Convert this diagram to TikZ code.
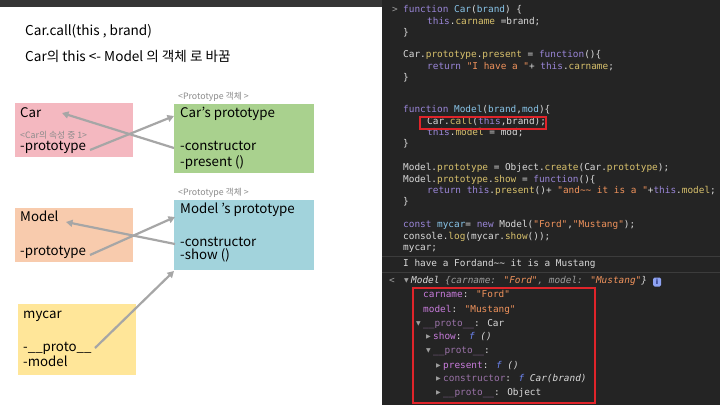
\documentclass[tikz,border=0pt]{standalone}
\usepackage{fontspec}
\setmainfont{Noto Sans CJK KR}
\newfontfamily\codefont{DejaVu Sans Mono}
\newfontfamily\symbfont{DejaVu Sans}
\usetikzlibrary{arrows.meta}
\definecolor{bgpanel}{HTML}{242424}
\definecolor{topbar}{HTML}{353535}
\definecolor{sepline}{HTML}{3C3C3C}
\definecolor{ckw}{HTML}{9A86D8}
\definecolor{cdef}{HTML}{88C4E8}
\definecolor{cprop}{HTML}{D8C16C}
\definecolor{cstr}{HTML}{F0935C}
\definecolor{cplain}{HTML}{DADADA}
\definecolor{cgray}{HTML}{9E9E9E}
\definecolor{cobj}{HTML}{C77BDB}
\definecolor{cdim}{HTML}{9A72A8}
\definecolor{cfn}{HTML}{6C84F0}
\definecolor{redbox}{HTML}{E0242A}
\definecolor{pinkbox}{HTML}{F4B8C0}
\definecolor{greenbox}{HTML}{A9D18E}
\definecolor{tealbox}{HTML}{A2D3DC}
\definecolor{peachbox}{HTML}{F8CBAD}
\definecolor{yellowbox}{HTML}{FFE699}
\definecolor{arrowgray}{HTML}{A6A6A6}
\definecolor{smallgray}{HTML}{8C8C8C}
\definecolor{infoblue}{HTML}{8EA2F2}
\definecolor{infodark}{HTML}{1E2A70}
\newcommand\tkw[1]{\textcolor{ckw}{#1}}
\newcommand\tdef[1]{\textcolor{cdef}{#1}}
\newcommand\tprop[1]{\textcolor{cprop}{#1}}
\newcommand\tstr[1]{\textcolor{cstr}{#1}}
\newcommand\tobj[1]{\textcolor{cobj}{#1}}
\newcommand\tdim[1]{\textcolor{cdim}{#1}}
\newcommand\tfn[1]{\textcolor{cfn}{\itshape #1}}
\newcommand\tcg[1]{\textcolor{cgray}{#1}}
\begin{document}
\begin{tikzpicture}[x=1pt,y=-1pt,
  box/.style={rectangle,draw=none,inner sep=0,outer sep=0,anchor=north west},
  lbl/.style={anchor=west,inner sep=0,font=\fontsize{13.3}{15}\selectfont,text height=9.5pt,text depth=3pt},
  ttl/.style={anchor=west,inner sep=0,font=\fontsize{13.6}{16}\selectfont,text height=10pt,text depth=3pt},
  sm/.style={anchor=west,inner sep=0,font=\fontsize{8.8}{10}\selectfont,text=smallgray},
  code/.style={anchor=west,inner sep=0,font=\codefont\fontsize{9.4}{11}\selectfont,text=cplain,text height=7pt,text depth=2pt},
  tri/.style={anchor=west,inner sep=0,font=\symbfont\fontsize{6}{7}\selectfont,text=cgray},
  arr/.style={draw=arrowgray,line width=2.2pt,-{Triangle[length=6.5pt,width=7pt]}},
  red/.style={draw=redbox,line width=1.6pt}
]
\useasboundingbox (0,0) rectangle (720,405);
\fill[white] (0,0) rectangle (720,405);
\fill[topbar] (0,0) rectangle (382,7);
\fill[bgpanel] (382,0) rectangle (720,405);
\draw[sepline,line width=0.8pt] (382,256) -- (720,256);
\draw[sepline,line width=0.8pt] (382,272) -- (720,272);

% ---- left: titles
\node[ttl] (t1) at (25,32) {Car.call(this , brand)};
\node[ttl] (t2) at (25,58) {Car의 this <- Model 의 객체 로 바꿈};

% ---- boxes
\node[box,fill=pinkbox,minimum width=118pt,minimum height=54pt] (carbox) at (15,103) {};
\node[box,fill=greenbox,minimum width=140pt,minimum height=69pt] (cpbox) at (174,104) {};
\node[box,fill=peachbox,minimum width=118pt,minimum height=54pt] (modbox) at (15,208) {};
\node[box,fill=tealbox,minimum width=140pt,minimum height=70pt] (mpbox) at (174,200) {};
\node[box,fill=yellowbox,minimum width=118pt,minimum height=71pt] (mybox) at (18,304) {};

% ---- box texts
\node[lbl] (carname) at (20,114) {Car};
\node[sm] (carsub) at (20,135) {<Car의 속성 중 1>};
\node[lbl] (carprot) at (20,147) {-prototype};
\node[sm] (cplab) at (178,97) {<Prototype 객체 >};
\node[lbl] (cptitle) at (180,114) {Car’s prototype};
\node[lbl] (cpcons) at (180,147) {-constructor};
\node[lbl] (cppres) at (180,163) {-present ()};
\node[sm] (mplab) at (178,193) {<Prototype 객체 >};
\node[lbl] (mptitle) at (180,210) {Model ’s prototype};
\node[lbl] (mpcons) at (180,243) {-constructor};
\node[lbl] (mpshow) at (180,256) {-show ()};
\node[lbl] (modname) at (20,218) {Model};
\node[lbl] (modprot) at (20,252) {-prototype};
\node[lbl] (myname) at (23,315) {mycar};
\node[lbl] (myproto) at (23,348) {-\_\_proto\_\_};
\node[lbl] (mymodel) at (23,363) {-model};

% ---- arrows
\coordinate (a1s) at (90,150);  \coordinate (a1e) at (174,116);
\coordinate (a2s) at (174,148); \coordinate (a2e) at (62,113);
\coordinate (a3s) at (90,255);  \coordinate (a3e) at (175,217);
\coordinate (a4s) at (175,244); \coordinate (a4e) at (66,222);
\coordinate (a5s) at (95,348);  \coordinate (a5e) at (174,271);
\draw[arr] (a1s) -- (a1e);
\draw[arr] (a2s) -- (a2e);
\draw[arr] (a3s) -- (a3e);
\draw[arr] (a4s) -- (a4e);
\draw[arr] (a5s) -- (a5e);

% ---- right: code
\node[code,text=cgray] (p1) at (392,10) {>};
\node[code] (c1) at (403,10) {\tkw{function} \tdef{Car}(\tdef{brand}) \{};
\node[code] (c2) at (427,22) {\tkw{this}.\tprop{carname} =brand;};
\node[code] (c3) at (403,33) {\}};
\node[code] (c4) at (403,55) {Car.\tprop{prototype}.\tprop{present} = \tkw{function}()\{};
\node[code] (c5) at (427,67) {\tkw{return} \tstr{"I have a "}+ \tkw{this}.\tprop{carname};};
\node[code] (c6) at (403,78) {\}};
\node[code] (c7) at (403,110) {\tkw{function} \tdef{Model}(\tdef{brand},\tdef{mod})\{};
\node[code] (c8) at (427,122) {Car.\tprop{call}(\tkw{this},brand);};
\node[code] (c9) at (427,133) {\tkw{this}.\tprop{model} = mod;};
\node[code] (c10) at (403,144) {\}};
\node[code] (c11) at (403,168) {Model.\tprop{prototype} = Object.\tprop{create}(Car.\tprop{prototype});};
\node[code] (c12) at (403,180) {Model.\tprop{prototype}.\tprop{show} = \tkw{function}()\{};
\node[code] (c13) at (427,191) {\tkw{return} \tkw{this}.\tprop{present}()+ \tstr{"and\textasciitilde\textasciitilde{} it is a "}+\tkw{this}.\tprop{model};};
\node[code] (c14) at (403,202) {\}};
\node[code] (c15) at (403,225) {\tkw{const} \tdef{mycar}= \tkw{new} Model(\tstr{"Ford"},\tstr{"Mustang"});};
\node[code] (c16) at (403,237) {console.\tprop{log}(mycar.\tprop{show}());};
\node[code] (c17) at (403,248) {mycar;};
\node[code] (c18) at (403,264) {I have a Fordand\textasciitilde\textasciitilde{} it is a Mustang};
\node[code,text=cgray] (p2) at (389,281) {<};
\node[tri] (r19) at (404,281) {▼};
\node[code] (c19) at (411,281) {\itshape Model \tcg{\{carname:} \tstr{"Ford"}\tcg{, model:} \tstr{"Mustang"}\}};
\node[fill=infoblue,rounded corners=1.5pt,minimum width=8pt,minimum height=9pt,inner sep=0,
      font=\symbfont\bfseries\fontsize{7}{8}\selectfont,text=infodark] (info) at (657,282) {i};
\node[code] (c20) at (423,295) {\tobj{carname}: \tstr{"Ford"}};
\node[code] (c21) at (423,310) {\tobj{model}: \tstr{"Mustang"}};
\node[tri] (r22) at (416,324) {▼};
\node[code] (c22) at (423,324) {\tdim{\_\_proto\_\_}: Car};
\node[tri] (r23) at (426,337) {▶};
\node[code] (c23) at (433,337) {\tobj{show}: \tfn{f} \textit{()}};
\node[tri] (r24) at (426,351) {▼};
\node[code] (c24) at (433,351) {\tdim{\_\_proto\_\_}:};
\node[tri] (r25) at (436,366) {▶};
\node[code] (c25) at (443,366) {\tobj{present}: \tfn{f} \textit{()}};
\node[tri] (r26) at (436,379) {▶};
\node[code] (c26) at (443,379) {\tdim{constructor}: \tfn{f} \textit{Car(brand)}};
\node[tri] (r27) at (436,393) {▶};
\node[code] (c27) at (443,393) {\tdim{\_\_proto\_\_}: Object};

% ---- red highlight boxes
\draw[red] (420,117) rectangle (546,129);
\draw[red,line width=2pt] (413,288) rectangle (595,403);
\end{tikzpicture}
\end{document}
